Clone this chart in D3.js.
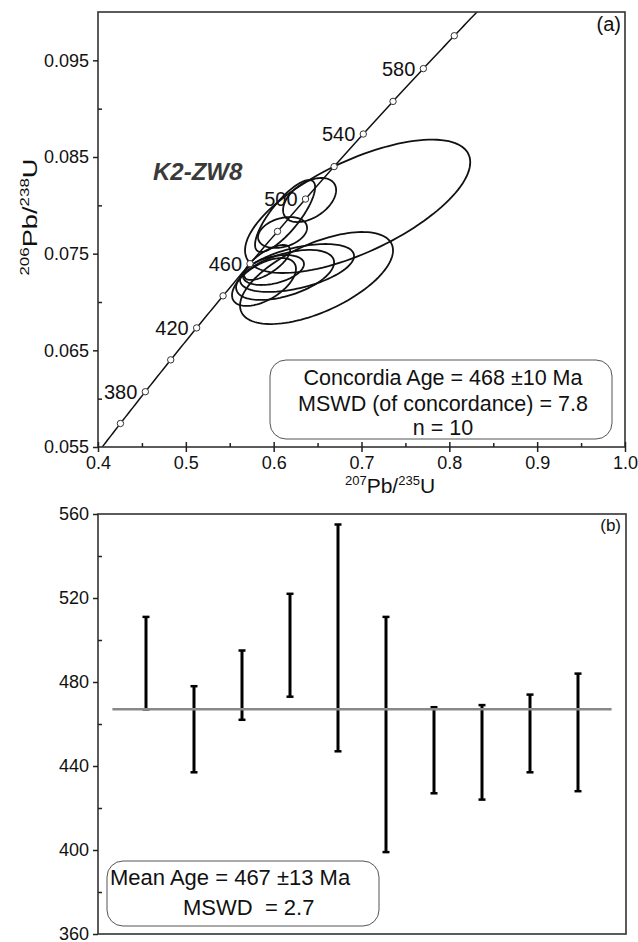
<!DOCTYPE html>
<html>
<head>
<meta charset="utf-8">
<script src="https://cdn.jsdelivr.net/npm/d3@7"></script>
<style>
body { margin: 0; background: #fff; }
text { font-family: "Liberation Sans", Arial, sans-serif; fill: #111; }
</style>
</head>
<body>
<svg id="chart" width="638" height="942"></svg>
<script>
// ---- panel (a): concordia ----
const xTicks75 = [0.4, 0.5, 0.6, 0.7, 0.8, 0.9, 1.0];
const xMinor75 = [0.45, 0.55, 0.65, 0.75, 0.85, 0.95];
const yTicks68 = [0.055, 0.065, 0.075, 0.085, 0.095];
const yMinor68 = [0.06, 0.07, 0.08, 0.09];

// decay constants, per Ma
const LAMBDA238 = 1.55125e-4;
const LAMBDA235 = 9.8485e-4;
const markerAges = [360, 380, 400, 420, 440, 460, 480, 500, 520, 540, 560, 580, 600];
const labelAges = [380, 420, 460, 500, 540, 580];

// error ellipses: centre, half widths, correlation
const ellCx  = [0.6956, 0.6409, 0.613, 0.6101, 0.6488, 0.6266, 0.613, 0.589, 0.5998, 0.5925];
const ellCy  = [0.0799, 0.08055, 0.0789, 0.07719, 0.07248, 0.07352, 0.0728, 0.07207, 0.07331, 0.07409];
const ellSx  = [0.1282, 0.0302, 0.0342, 0.0279, 0.0871, 0.0649, 0.0558, 0.0364, 0.0347, 0.0262];
const ellSy  = [0.0069, 0.00228, 0.00372, 0.0016, 0.00476, 0.00248, 0.00259, 0.00248, 0.00155, 0.00181];
const ellRho = [0.66, 0.45, 0.8, 0.3, 0.6, 0.5, 0.5, 0.55, 0.4, 0.7];

// ---- panel (b): weighted mean ----
const spots   = [1, 2, 3, 4, 5, 6, 7, 8, 9, 10];
const ageHigh = [511, 478, 495, 522, 555, 511, 468, 469, 474, 484];
const ageLow  = [467, 437, 462, 473, 447, 399, 427, 424, 437, 428];
const meanAge = 467;
const ageTicks = [360, 400, 440, 480, 520, 560];
const ageMinor = [380, 420, 460, 500, 540];

const svg = d3.select('#chart');
const FONT = '"Liberation Sans", Arial, sans-serif';

const A = {left: 98, right: 625, top: 12, bottom: 447};
const B = {left: 98, right: 626, top: 514, bottom: 934};

const x = d3.scaleLinear().domain([0.4, 1.0]).range([A.left, A.right]);
const y = d3.scaleLinear().domain([0.055, 0.1]).range([A.bottom, A.top]);

function styleAxis(g, size) {
    g.select('.domain').remove();
    g.selectAll('line').attr('stroke', '#222').attr('stroke-width', 1.5);
    g.selectAll('text').attr('font-size', size).attr('font-family', FONT).attr('fill', '#111');
}

svg.append('clipPath').attr('id', 'clipA')
    .append('rect').attr('x', A.left).attr('y', A.top)
    .attr('width', A.right - A.left).attr('height', A.bottom - A.top);

const plotA = svg.append('g').attr('clip-path', 'url(#clipA)');

// concordia curve
const conc = t => [Math.exp(LAMBDA235 * t) - 1, Math.exp(LAMBDA238 * t) - 1];
const curveAges = d3.range(330, 680, 2);
plotA.append('path')
    .datum(curveAges.map(conc))
    .attr('fill', 'none').attr('stroke', '#111').attr('stroke-width', 1.5)
    .attr('d', d3.line().x(d => x(d[0])).y(d => y(d[1])));

// error ellipses
const ellLine = d3.line().x(d => x(d[0])).y(d => y(d[1])).curve(d3.curveLinearClosed);
const angles = d3.range(0, 2 * Math.PI, Math.PI / 60);
plotA.selectAll('path.ell')
    .data(ellCx.map((cx, i) => ({cx, cy: ellCy[i], sx: ellSx[i], sy: ellSy[i], r: ellRho[i]})))
    .join('path')
    .attr('class', 'ell')
    .attr('fill', 'none').attr('stroke', '#111').attr('stroke-width', 1.8)
    .attr('d', e => ellLine(angles.map(a => [
        e.cx + e.sx * Math.cos(a),
        e.cy + e.sy * (e.r * Math.cos(a) + Math.sqrt(1 - e.r * e.r) * Math.sin(a))
    ])));

// age markers
plotA.selectAll('circle.mk')
    .data(markerAges)
    .join('circle')
    .attr('class', 'mk')
    .attr('cx', t => x(conc(t)[0]))
    .attr('cy', t => y(conc(t)[1]))
    .attr('r', 3.2)
    .attr('fill', '#fff').attr('stroke', '#333').attr('stroke-width', 1);

svg.selectAll('text.age')
    .data(labelAges)
    .join('text')
    .attr('class', 'age')
    .attr('x', t => x(conc(t)[0]) - 8)
    .attr('y', t => y(conc(t)[1]) + 7)
    .attr('text-anchor', 'end')
    .attr('font-size', 20)
    .text(d => d);

// frame and axes (a)
svg.append('rect')
    .attr('x', A.left).attr('y', A.top)
    .attr('width', A.right - A.left).attr('height', A.bottom - A.top)
    .attr('fill', 'none').attr('stroke', '#333').attr('stroke-width', 1.6);

svg.append('g').attr('transform', `translate(0,${A.bottom})`)
    .call(d3.axisBottom(x).tickValues(xTicks75).tickSize(5).tickPadding(4).tickFormat(d3.format('.1f')))
    .call(g => styleAxis(g, 18));
svg.append('g').attr('transform', `translate(0,${A.bottom})`)
    .call(d3.axisTop(x).tickValues(xTicks75).tickSize(5).tickFormat(''))
    .call(g => styleAxis(g, 18));
svg.append('g').attr('transform', `translate(0,${A.bottom})`)
    .call(d3.axisTop(x).tickValues(xMinor75).tickSize(4).tickFormat(''))
    .call(g => styleAxis(g, 18));

svg.append('g').attr('transform', `translate(${A.left},0)`)
    .call(d3.axisLeft(y).tickValues(yTicks68).tickSize(5).tickPadding(4).tickFormat(d3.format('.3f')))
    .call(g => styleAxis(g, 18));
svg.append('g').attr('transform', `translate(${A.left},0)`)
    .call(d3.axisRight(y).tickValues(yMinor68).tickSize(4).tickFormat(''))
    .call(g => styleAxis(g, 18));

// axis titles (a)
const xTitle = svg.append('text')
    .attr('x', 390).attr('y', 493)
    .attr('text-anchor', 'middle').attr('font-size', 21);
xTitle.append('tspan').attr('font-size', 13).attr('dy', -8).text('207');
xTitle.append('tspan').attr('dy', 8).text('Pb/');
xTitle.append('tspan').attr('font-size', 13).attr('dy', -8).text('235');
xTitle.append('tspan').attr('dy', 8).text('U');

const yTitle = svg.append('text')
    .attr('transform', 'translate(37,217) rotate(-90) scale(1.3,1)')
    .attr('text-anchor', 'middle').attr('font-size', 21);
yTitle.append('tspan').attr('font-size', 13).attr('dy', -8).text('206');
yTitle.append('tspan').attr('dy', 8).text('Pb/');
yTitle.append('tspan').attr('font-size', 13).attr('dy', -8).text('238');
yTitle.append('tspan').attr('dy', 8).text('U');

svg.append('text')
    .attr('x', 153).attr('y', 180)
    .attr('font-size', 24).attr('font-weight', 'bold').attr('font-style', 'italic')
    .style('fill', '#3a3a3a')
    .text('K2-ZW8');

svg.append('text')
    .attr('x', 621).attr('y', 31).attr('text-anchor', 'end')
    .attr('font-size', 20).text('(a)');

// result box (a)
svg.append('rect')
    .attr('x', 270).attr('y', 360).attr('width', 342).attr('height', 79)
    .attr('rx', 16).attr('ry', 16)
    .attr('fill', '#fff').attr('stroke', '#555').attr('stroke-width', 1);
const concLines = ['Concordia Age = 468 \u00b110 Ma', 'MSWD (of concordance) = 7.8', 'n = 10'];
const concBase = [385, 411, 435];
svg.selectAll('text.conc')
    .data(concLines)
    .join('text')
    .attr('class', 'conc')
    .attr('x', 443).attr('y', (d, i) => concBase[i])
    .attr('text-anchor', 'middle').attr('font-size', 21.5)
    .text(d => d);

// ---- panel (b) ----
const xb = d3.scaleLinear().domain([0, 11]).range([B.left, B.right]);
const yb = d3.scaleLinear().domain([360, 560]).range([B.bottom, B.top]);

svg.append('rect')
    .attr('x', B.left).attr('y', B.top)
    .attr('width', B.right - B.left).attr('height', B.bottom - B.top)
    .attr('fill', 'none').attr('stroke', '#333').attr('stroke-width', 1.6);

svg.append('g').attr('transform', `translate(${B.left},0)`)
    .call(d3.axisLeft(yb).tickValues(ageTicks).tickSize(5).tickPadding(4).tickFormat(d3.format('d')))
    .call(g => styleAxis(g, 18));
svg.append('g').attr('transform', `translate(${B.left},0)`)
    .call(d3.axisRight(yb).tickValues(ageMinor).tickSize(4).tickFormat(''))
    .call(g => styleAxis(g, 18));

// error bars
const bars = svg.append('g');
bars.selectAll('line.bar')
    .data(spots)
    .join('line')
    .attr('class', 'bar')
    .attr('x1', d => xb(d)).attr('x2', d => xb(d))
    .attr('y1', (d, i) => yb(ageHigh[i])).attr('y2', (d, i) => yb(ageLow[i]))
    .attr('stroke', '#000').attr('stroke-width', 3);
['hi', 'lo'].forEach(k => {
    bars.selectAll('line.cap-' + k)
        .data(spots)
        .join('line')
        .attr('class', 'cap-' + k)
        .attr('x1', d => xb(d) - 3.5).attr('x2', d => xb(d) + 3.5)
        .attr('y1', (d, i) => yb(k === 'hi' ? ageHigh[i] : ageLow[i]))
        .attr('y2', (d, i) => yb(k === 'hi' ? ageHigh[i] : ageLow[i]))
        .attr('stroke', '#000').attr('stroke-width', 2.5);
});

// weighted mean line
svg.append('line')
    .attr('x1', xb(0.3)).attr('x2', xb(10.7))
    .attr('y1', yb(meanAge)).attr('y2', yb(meanAge))
    .attr('stroke', '#888').attr('stroke-width', 2.5);

svg.append('text')
    .attr('x', 621).attr('y', 531).attr('text-anchor', 'end')
    .attr('font-size', 17).text('(b)');

// result box (b)
svg.append('rect')
    .attr('x', 107).attr('y', 861).attr('width', 272).attr('height', 65)
    .attr('rx', 16).attr('ry', 16)
    .attr('fill', '#fff').attr('stroke', '#555').attr('stroke-width', 1);
svg.append('text')
    .attr('x', 110).attr('y', 885).attr('font-size', 22)
    .text('Mean Age = 467 \u00b113 Ma');
svg.append('text')
    .attr('x', 183).attr('y', 915).attr('font-size', 22)
    .style('white-space', 'pre')
    .text('MSWD  = 2.7');
</script>
</body>
</html>
